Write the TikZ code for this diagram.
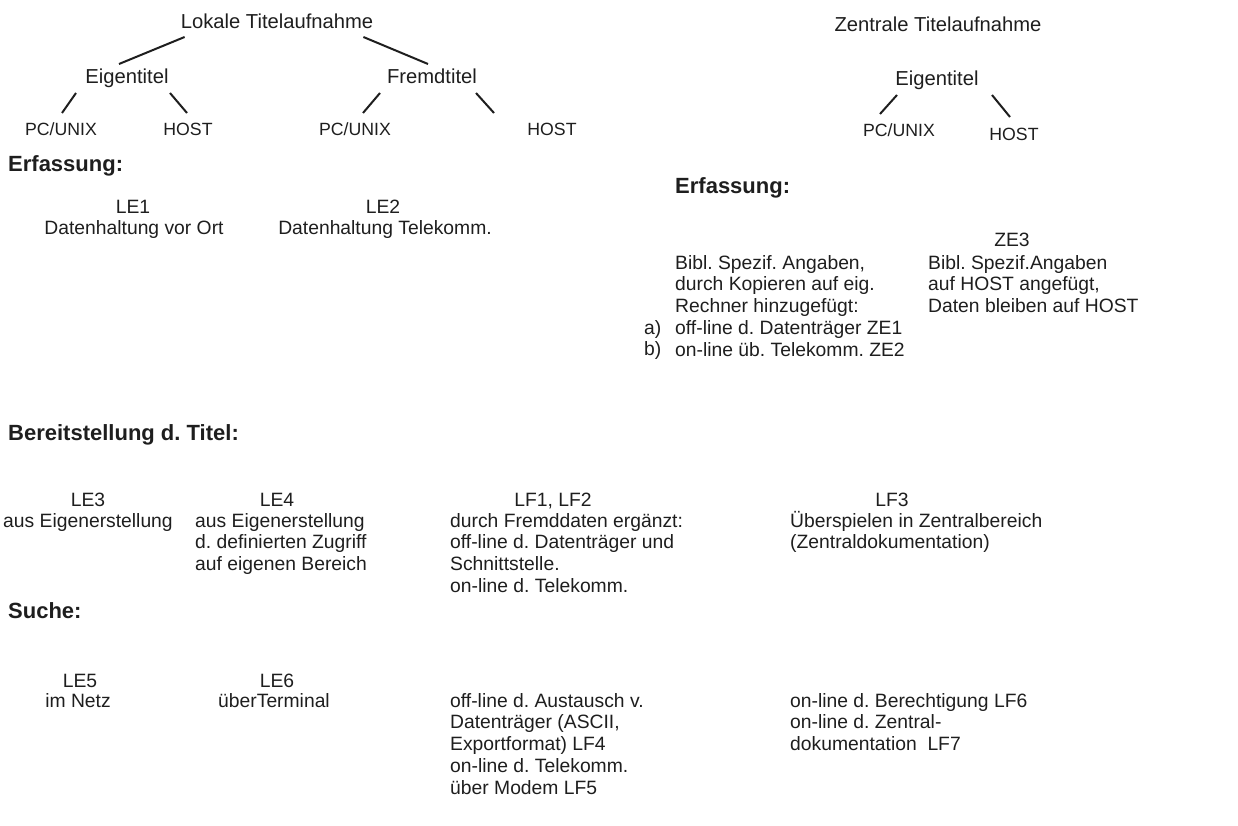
\documentclass[tikz,border=0pt]{standalone}
\usepackage{fontspec}
\setmainfont{Liberation Sans}
\usetikzlibrary{calc}
\tikzset{>=latex}
\frenchspacing
\definecolor{tinte}{RGB}{30,30,30}
\newcommand{\oben}{\rule{0pt}{18pt}}
\tikzset{
ast/.style={line width=2pt, draw=tinte},
titel/.style={font=\fontsize{20.2}{22}\selectfont, text=tinte, inner sep=0pt, anchor=base},
blatt/.style={font=\fontsize{17.7}{20}\selectfont, text=tinte, inner sep=0pt, anchor=base},
kopf/.style={font=\fontsize{22}{24}\selectfont\bfseries, text=tinte, inner sep=0pt, anchor=base west},
kenn/.style={font=\fontsize{19.3}{21.7}\selectfont, text=tinte, inner sep=0pt, anchor=base},
absatz/.style={font=\fontsize{19.3}{21.7}\selectfont, text=tinte, inner sep=0pt, align=left, anchor=north west}
}

\begin{document}
\begin{tikzpicture}[x=1pt, y=-1pt]
\useasboundingbox (0,0) rectangle (1238,826);

% Baeume
\node[titel] (lokal) at (277,29) {Lokale Titelaufnahme};
\node[titel] (eigL) at (127,84) {Eigentitel};
\node[titel] (fremd) at (432,84) {Fremdtitel};
\node[blatt] (pcL1) at (61,136) {PC/UNIX};
\node[blatt] (hostL1) at (188,136) {HOST};
\node[blatt] (pcL2) at (355,136) {PC/UNIX};
\node[blatt] (hostL2) at (552,136) {HOST};

\node[titel] (zentral) at (938,32) {Zentrale Titelaufnahme};
\node[titel] (eigR) at (937,86) {Eigentitel};
\node[blatt] (pcR) at (899,137) {PC/UNIX};
\node[blatt] (hostR) at (1014,141) {HOST};

\draw[ast] ($(lokal.base west)+(4,8)$) -- ($(eigL.base)+(-8,-20)$);
\draw[ast] ($(lokal.base east)+(-10,8)$) -- ($(fremd.base)+(-4,-20)$);
\draw[ast] ($(eigL.base)+(-51,9)$) -- ($(pcL1.base)+(1,-23)$);
\draw[ast] ($(eigL.base)+(43,9)$) -- ($(hostL1.base)+(-1,-23)$);
\draw[ast] ($(fremd.base)+(-52,9)$) -- ($(pcL2.base)+(8,-23)$);
\draw[ast] ($(fremd.base)+(44,9)$) -- ($(hostL2.base)+(-58,-23)$);
\draw[ast] ($(eigR.base)+(-40,9)$) -- ($(pcR.base)+(-19,-23)$);
\draw[ast] ($(eigR.base)+(55,9)$) -- ($(hostR.base)+(-4,-24)$);

% Erfassung
\node[kopf] (erfL) at (8,172) {Erfassung:};
\node[kenn] (le1) at (133,214) {LE1};
\node[kenn] (le1t) at (134,235) {Datenhaltung vor Ort};
\node[kenn] (le2) at (383,214) {LE2};
\node[kenn] (le2t) at (385,235) {Datenhaltung Telekomm.};

\node[kopf] (erfR) at (675,194) {Erfassung:};
\node[kenn] (ze3) at (1012,247) {ZE3};
\node[absatz] (zeL) at (675,251) {\oben Bibl. Spezif. Angaben,\\durch Kopieren auf eig.\\Rechner hinzugefügt:\\off-line d. Datenträger ZE1\\on-line üb. Telekomm. ZE2};
\node[absatz] (zeab) at (644,316) {\oben a)\\b)};
\node[absatz] (zeR) at (928,251) {\oben Bibl. Spezif.Angaben\\auf HOST angefügt,\\Daten bleiben auf HOST};

% Bereitstellung
\node[kopf] (bereit) at (8,440) {Bereitstellung d. Titel:};
\node[kenn] (le3) at (88,506) {LE3};
\node[kenn] (le3t) at (88,527) {aus Eigenerstellung};
\node[kenn] (le4) at (277,506) {LE4};
\node[absatz] (le4t) at (195,509) {\oben aus Eigenerstellung\\d. definierten Zugriff\\auf eigenen Bereich};
\node[kenn] (lf12) at (553,506) {LF1, LF2};
\node[absatz] (lf12t) at (450,509) {\oben durch Fremddaten ergänzt:\\off-line d. Datenträger und\\Schnittstelle.\\on-line d. Telekomm.};
\node[kenn] (lf3) at (892,506) {LF3};
\node[absatz] (lf3t) at (790,509) {\oben Überspielen in Zentralbereich\\(Zentraldokumentation)};

% Suche
\node[kopf] (suche) at (8,618) {Suche:};
\node[kenn] (le5) at (80,687) {LE5};
\node[kenn] (le5t) at (78,707) {im Netz};
\node[kenn] (le6) at (277,687) {LE6};
\node[kenn] (le6t) at (274,707) {überTerminal};
\node[absatz] (lf45) at (450,689) {\oben off-line d. Austausch v.\\Datenträger (ASCII,\\Exportformat) LF4\\on-line d. Telekomm.\\über Modem LF5};
\node[absatz] (lf67) at (790,689) {\oben on-line d. Berechtigung LF6\\on-line d. Zentral-\\dokumentation\ \ LF7};
\end{tikzpicture}
\end{document}
